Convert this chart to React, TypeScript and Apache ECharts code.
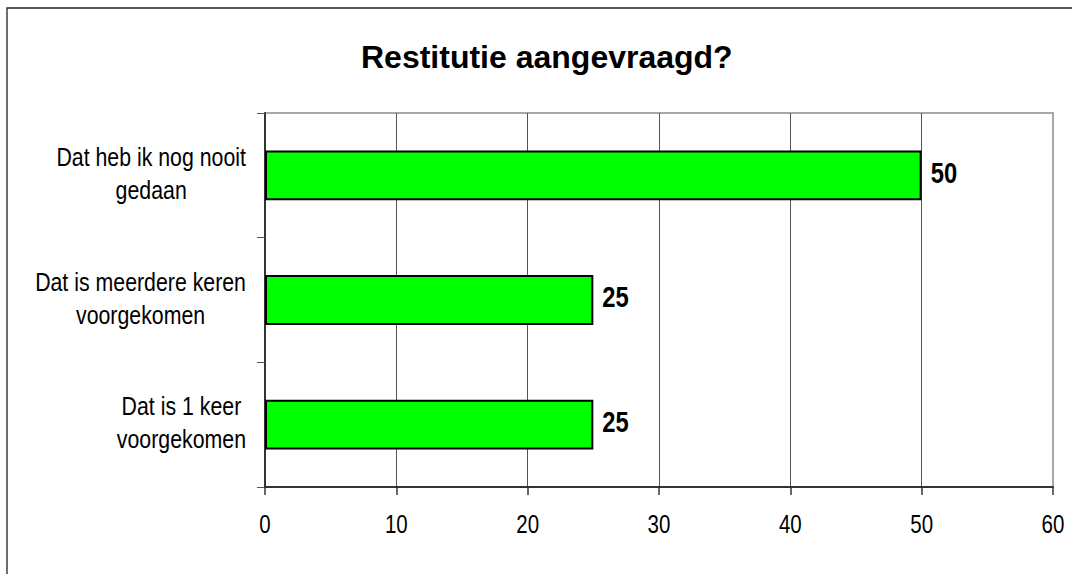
import React, { useEffect, useRef } from "react";
import * as echarts from "echarts";

const titleText = "Restitutie aangevraagd?";
const categories = [
  "Dat is 1 keer\nvoorgekomen",
  "Dat is meerdere keren\nvoorgekomen",
  "Dat heb ik nog nooit\ngedaan",
];
const values = [25, 25, 50];
const xTickValues = [0, 10, 20, 30, 40, 50, 60];
const xRange = { min: 0, max: 60, interval: 10 };

const FONT = "'Liberation Sans', Arial, sans-serif";
const NARROW_SCALE = 0.82;

export default function App() {
  const ref = useRef<HTMLDivElement>(null);
  useEffect(() => {
    if (!ref.current) return;
    const chart = echarts.init(ref.current, null, { renderer: "svg" });
    const border = {
      type: "rect",
      id: "outer",
      shape: { x: 7, y: 8, width: 2000, height: 2000 },
      style: { fill: "none", stroke: "#222", lineWidth: 1.3 },
      silent: true,
      z: 0,
    };
    chart.setOption({
      animation: false,
      backgroundColor: "#ffffff",
      title: {
        text: titleText,
        left: 356,
        top: 36,
        textStyle: { fontFamily: FONT, fontSize: 32, fontWeight: "bold", color: "#000" },
      },
      graphic: [border],
      grid: {
        left: 265,
        right: 19,
        top: 113,
        bottom: 87,
        show: true,
        borderColor: "#8a8a8a",
        borderWidth: 1.5,
        backgroundColor: "transparent",
        outerBoundsMode: "none",
        containLabel: false,
      },
      xAxis: {
        type: "value",
        min: xRange.min,
        max: xRange.max,
        interval: xRange.interval,
        axisLine: { show: true, lineStyle: { color: "#333", width: 2 } },
        axisTick: { show: true, length: 8, lineStyle: { color: "#333", width: 1.5 } },
        axisLabel: { show: false },
        splitLine: { show: true, showMaxLine: false, lineStyle: { color: "#555", width: 1 } },
      },
      yAxis: {
        type: "category",
        data: categories,
        axisLine: { show: true, lineStyle: { color: "#333", width: 2 } },
        axisTick: { show: true, length: 8, lineStyle: { color: "#555", width: 1 } },
        axisLabel: { show: false },
        splitLine: { show: false },
      },
      series: [
        {
          type: "bar",
          data: values,
          barWidth: "40%",
          itemStyle: { color: "#00ff00", borderColor: "#000", borderWidth: 2 },
          label: { show: false },
        },
      ],
    });

    const texts: any[] = [];
    // category labels (narrow look via horizontal scale)
    categories.forEach((c, i) => {
      const y = chart.convertToPixel({ yAxisIndex: 0 }, i) as number;
      texts.push({
        type: "text",
        id: "cat" + i,
        x: 246,
        y: y - 2,
        scaleX: NARROW_SCALE,
        silent: true,
        style: {
          text: c.split("\n").map((l) => `{c|${l}}`).join("\n"),
          align: "right",
          textAlign: "right",
          verticalAlign: "middle",
          textVerticalAlign: "middle",
          rich: {
            c: {
              align: "center",
              fontSize: 26,
              lineHeight: 33,
              fontFamily: FONT,
              fill: "#000",
              color: "#000",
            },
          },
        },
      });
    });
    // x tick labels
    xTickValues.forEach((v, i) => {
      const x = chart.convertToPixel({ xAxisIndex: 0 }, v) as number;
      texts.push({
        type: "text",
        id: "xt" + i,
        x,
        y: 524,
        scaleX: NARROW_SCALE,
        silent: true,
        style: {
          text: String(v),
          align: "center",
          textAlign: "center",
          verticalAlign: "middle",
          textVerticalAlign: "middle",
          fontSize: 25,
          fontFamily: FONT,
          fill: "#000",
        },
      });
    });
    // value labels
    values.forEach((v, i) => {
      const p = chart.convertToPixel({ gridIndex: 0 }, [v, i]) as number[];
      texts.push({
        type: "text",
        id: "val" + i,
        x: p[0] + 9,
        y: p[1] - 2.4,
        scaleX: NARROW_SCALE,
        silent: true,
        style: {
          text: String(v),
          align: "left",
          textAlign: "left",
          verticalAlign: "middle",
          textVerticalAlign: "middle",
          fontSize: 29,
          fontWeight: "bold",
          fontFamily: FONT,
          fill: "#000",
        },
      });
    });
    chart.setOption({ graphic: [border, ...texts] });
    return () => chart.dispose();
  }, []);
  return (
    <div
      ref={ref}
      style={{ position: "fixed", left: 0, top: 0, width: 1072, height: 574 }}
    />
  );
}
